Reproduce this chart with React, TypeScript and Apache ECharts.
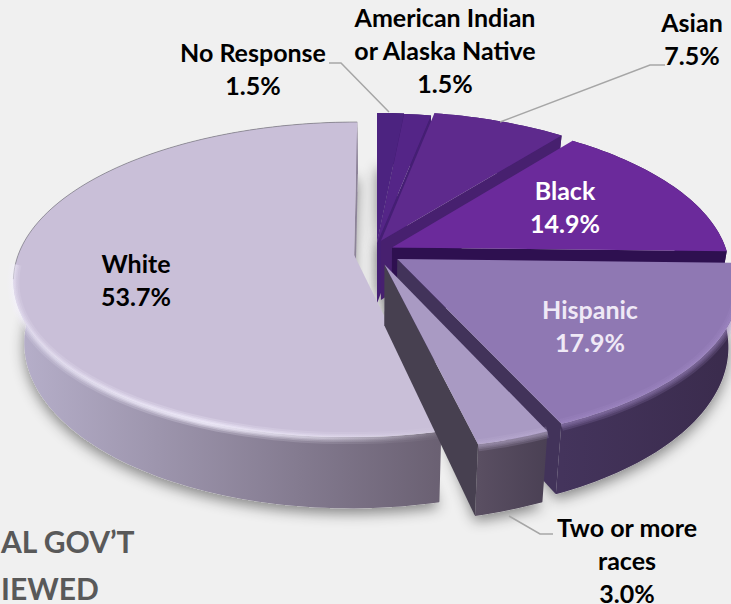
import React, { useEffect, useRef } from "react";
import * as echarts from "echarts";

const categories = ["No Response", "American Indian or Alaska Native", "Asian", "Black", "Hispanic", "Two or more races", "White"];
const shares = [1.5, 1.5, 7.5, 14.9, 17.9, 3.0, 53.7];

// Back slices are painted first so the nearer ones overlap them.
const paintOrder = [0, 1, 2, 3, 6, 4, 5];

const topColors = ["#4c2380", "#542587", "#5e2a8d", "#6b2a9b", "#8f78b3", "#a99ac3", "#c9bfd8"];
const wallLeft = ["#3c1a68", "#3c1a68", "#421d70", "#2f1150", "#44345c", "#5a4f62", "#b7b0cb"];
const wallRight = ["#3c1a68", "#3c1a68", "#421d70", "#2f1150", "#3a2b4c", "#4a4054", "#6a6072"];
const cutColors = ["#3f1b6e", "#451f74", "#47206f", "#2e1050", "#42335a", "#474050", "#8d8399"];
const rimGlow = ["#6a3ca0", "#6a3ca0", "#6a3ca0", "#7a35ad", "#a48cc8", "#c0b2d6", "#f4f0ff"];

// How far each slice is pulled out of the pie, in units of the pie's radius.
const pullX = [0, 0, 0.012, 0.045, 0.06, 0.022, -0.068];
const pullY = [-0.06, -0.055, -0.075, -0.03, 0.045, 0.08, 0.02];

const CX = 377, CY = 252, RX = 335, RY = 152.8, PERSP = 0.155, DEPTH = 60, TAPER = 0.03;
const WHITE_SLICE = 6;

const project = (u: number, v: number, z: number): number[] => {
  const w = 1 - PERSP * v;
  const x = CX + (RX * u / w) * (1 - TAPER * z);
  const y = CY + (RY * v) / w + (DEPTH / w) * z;
  return [x, y];
};

const sliceFrames = () => {
  const total = shares.reduce((a, b) => a + b, 0);
  let acc = 0;
  return shares.map((s, i) => {
    const a0 = (acc / total) * 2 * Math.PI;
    acc += s;
    const a1 = (acc / total) * 2 * Math.PI;
    const ox = pullX[i];
    const oy = pullY[i];
    const rim = (z: number) => {
      const n = Math.max(4, Math.ceil((a1 - a0) * 40));
      const pts: number[][] = [];
      for (let k = 0; k <= n; k++) {
        const t = a0 + ((a1 - a0) * k) / n;
        pts.push(project(ox + Math.sin(t), oy - Math.cos(t), z));
      }
      return pts;
    };
    return { a0, a1, rim, apex: (z: number) => project(ox, oy, z) };
  });
};

const facing = (q: number[][]) => {
  let s = 0;
  q.forEach((p, i) => {
    const n = q[(i + 1) % q.length];
    s += p[0] * n[1] - n[0] * p[1];
  });
  return s;
};

const hexAlpha = (hex: string, a: number) => {
  const v = parseInt(hex.slice(1), 16);
  return `rgba(${(v >> 16) & 255},${(v >> 8) & 255},${v & 255},${a})`;
};

const renderShadow = (params: any, api: any) => {
  const f = sliceFrames()[api.value(0)];
  const pts = [f.apex(1), ...f.rim(1), f.apex(0)];
  return {
    type: "polygon",
    shape: { points: pts },
    style: { fill: "#d0d0d0", shadowBlur: 14, shadowColor: "rgba(0,0,0,0.45)", shadowOffsetX: 0, shadowOffsetY: 5 },
    silent: true,
  };
};

const renderSlice = (params: any, api: any) => {
  const i = api.value(0);
  const f = sliceFrames()[i];
  const top = f.rim(0);
  const bottom = f.rim(1);
  const xs = top.map((p) => p[0]);
  const minX = Math.min(...xs), maxX = Math.max(...xs);
  const children: any[] = [];

  children.push({
    type: "polygon",
    shape: { points: [...top, ...bottom.slice().reverse()] },
    style: {
      fill: {
        type: "linear", x: minX, y: 0, x2: maxX, y2: 0, global: true,
        colorStops: [
          { offset: 0, color: wallLeft[i] },
          { offset: 1, color: wallRight[i] },
        ],
      },
    },
  });

  const cuts = [
    [f.apex(0), top[0], bottom[0], f.apex(1)],
    [top[top.length - 1], f.apex(0), f.apex(1), bottom[bottom.length - 1]],
  ];
  cuts.forEach((q) => {
    if (facing(q) < 0) {
      children.push({ type: "polygon", shape: { points: q }, style: { fill: cutColors[i] } });
    }
  });

  children.push({
    type: "polygon",
    shape: { points: [f.apex(0), ...top] },
    style: { fill: topColors[i] },
  });

  // Thin grey edge along the far side of the large slice.
  if (i === WHITE_SLICE) {
    children.push({
      type: "polyline",
      shape: { points: top.filter((p) => p[1] < CY + 30 && p[0] < CX) },
      style: { fill: "none", stroke: "rgba(110,110,115,0.6)", lineWidth: 1 },
    });
  }

  // Soft rounded bevel where the top surface turns into the outer wall.
  const front = top.filter((p) => p[1] > CY + 10);
  if (front.length > 1) {
    [12, 8, 5, 2.5].forEach((lineWidth, n) => {
      children.push({
        type: "polyline",
        shape: { points: front.map((p) => [p[0], p[1] + 1]) },
        style: {
          fill: "none",
          lineWidth,
          stroke: {
            type: "linear", x: minX, y: 0, x2: maxX, y2: 0, global: true,
            colorStops: i === WHITE_SLICE
              ? [
                  { offset: 0, color: hexAlpha(rimGlow[i], 0.12 + n * 0.03) },
                  { offset: 0.45, color: hexAlpha(rimGlow[i], 0.22 + n * 0.1) },
                  { offset: 1, color: hexAlpha(rimGlow[i], 0.02) },
                ]
              : [
                  { offset: 0, color: hexAlpha(rimGlow[i], 0.18) },
                  { offset: 1, color: hexAlpha(rimGlow[i], 0.18) },
                ],
          },
        },
      });
    });
  }
  return { type: "group", children };
};

const pct = (i: number) => `${shares[i].toFixed(1)}%`;

const labelSpecs = [
  { text: `No Response\n${pct(0)}`, x: 253, y: 68, fill: "#000000", lineHeight: 33 },
  { text: `American Indian\nor Alaska Native\n${pct(1)}`, x: 445, y: 50, fill: "#000000", lineHeight: 33 },
  { text: `Asian\n${pct(2)}`, x: 692, y: 38, fill: "#000000", lineHeight: 33 },
  { text: `Black\n${pct(3)}`, x: 565, y: 206, fill: "#ffffff", lineHeight: 33 },
  { text: `Hispanic\n${pct(4)}`, x: 590, y: 325, fill: "#efe9f6", lineHeight: 33 },
  { text: "Two or more\nraces", x: 627, y: 543, fill: "#000000", lineHeight: 33 },
  { text: pct(5), x: 627, y: 593, fill: "#000000", lineHeight: 20 },
  { text: `White\n${pct(6)}`, x: 136, y: 279, fill: "#000000", lineHeight: 33 },
];

const leaders = [
  [[329, 63], [341, 63], [389, 112]],
  [[665, 65], [650, 65], [500, 122]],
  [[553, 534], [540, 534], [509, 516]],
];

const captionLines = [
  { text: "AL GOV’T", x: 1, y: 541 },
  { text: "IEWED", x: 1, y: 588 },
];

export default function App() {
  const ref = useRef<HTMLDivElement>(null);
  useEffect(() => {
    document.body.style.margin = "0";
    document.body.style.background = "#f0f0f0";
    const chart = echarts.init(ref.current!, null, { renderer: "svg" });
    const seriesData = paintOrder.map((i) => ({ name: categories[i], value: [i, shares[i]] }));
    chart.setOption({
      animation: false,
      backgroundColor: "#f0f0f0",
      series: [
        { type: "custom", coordinateSystem: "none", z: 1, silent: true, data: seriesData, renderItem: renderShadow },
        { type: "custom", coordinateSystem: "none", z: 2, silent: true, data: seriesData, renderItem: renderSlice },
      ],
      graphic: [
        ...leaders.map((points) => ({
          type: "polyline", z: 10, silent: true, shape: { points },
          style: { fill: "none", stroke: "#a6a6a6", lineWidth: 1.5 },
        })),
        ...labelSpecs.map((l) => ({
          type: "text", z: 11, silent: true, x: l.x, y: l.y,
          style: {
            text: l.text, fill: l.fill, align: "center", verticalAlign: "middle",
            font: "bold 25px Lato", lineHeight: l.lineHeight,
          },
        })),
        ...captionLines.map((l) => ({
          type: "text", z: 11, silent: true, x: l.x, y: l.y,
          style: {
            text: l.text, fill: "#595959", align: "left", verticalAlign: "middle",
            font: "bold 30px Lato", lineHeight: 28,
          },
        })),
      ],
    });
    return () => chart.dispose();
  }, []);
  return <div ref={ref} style={{ width: 731, height: 604 }} />;
}
